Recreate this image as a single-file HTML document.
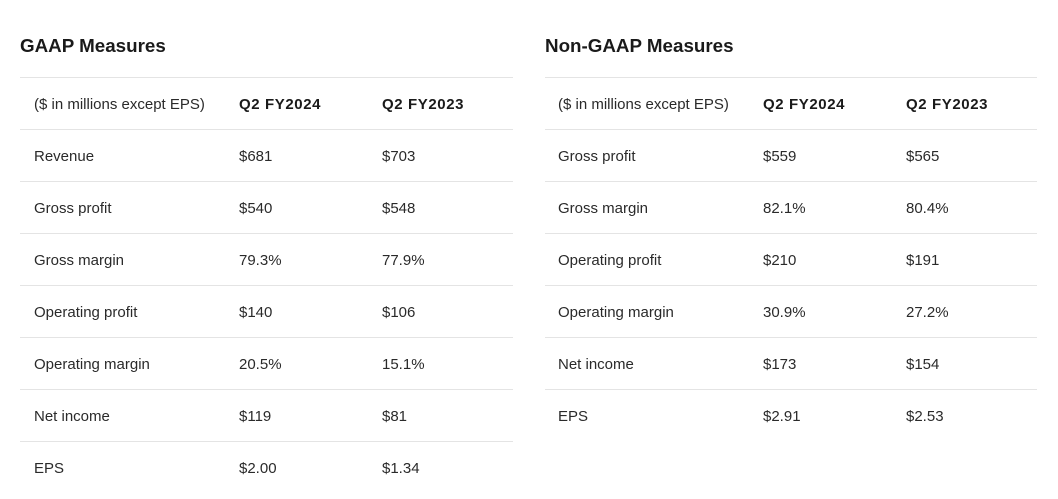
<!DOCTYPE html>
<html><head><meta charset="utf-8"><style>
body{margin:0;width:1058px;height:499px;background:#fff;position:relative;overflow:hidden;font-family:"Liberation Sans",sans-serif;color:#2a2a2a}
.t{position:absolute;font-size:18.8px;font-weight:bold;color:#1a1a1a;line-height:20px}
.l{position:absolute;height:1px;background:#e4e4e4}
.c{position:absolute;font-size:15px;line-height:16px;white-space:nowrap}
.b{font-weight:bold;color:#1a1a1a;letter-spacing:0.6px}
</style></head><body>
<div class="t" style="left:20px;top:36px">GAAP Measures</div>
<div class="t" style="left:545px;top:36px">Non-GAAP Measures</div>
<div id="g"></div>
<script>
function tbl(x0,w,cols,rows){
  let h='';
  for(let i=0;i<rows.length;i++){
    const ly=77+52*i;
    h+=`<div class="l" style="left:${x0}px;top:${ly}px;width:${w}px"></div>`;
    const cy=ly+26-6;
    rows[i].forEach((v,j)=>{h+=`<div class="c${i==0&&j>0?' b':''}" style="left:${cols[j]}px;top:${cy}px">${v}</div>`});
  }
  return h;
}
const g=[["($ in millions except EPS)","Q2 FY2024","Q2 FY2023"],["Revenue","$681","$703"],["Gross profit","$540","$548"],["Gross margin","79.3%","77.9%"],["Operating profit","$140","$106"],["Operating margin","20.5%","15.1%"],["Net income","$119","$81"],["EPS","$2.00","$1.34"]];
const n=[["($ in millions except EPS)","Q2 FY2024","Q2 FY2023"],["Gross profit","$559","$565"],["Gross margin","82.1%","80.4%"],["Operating profit","$210","$191"],["Operating margin","30.9%","27.2%"],["Net income","$173","$154"],["EPS","$2.91","$2.53"]];
document.getElementById('g').innerHTML=tbl(20,493,[34,239,382],g)+tbl(545,492,[558,763,906],n);
</script>
</body></html>
